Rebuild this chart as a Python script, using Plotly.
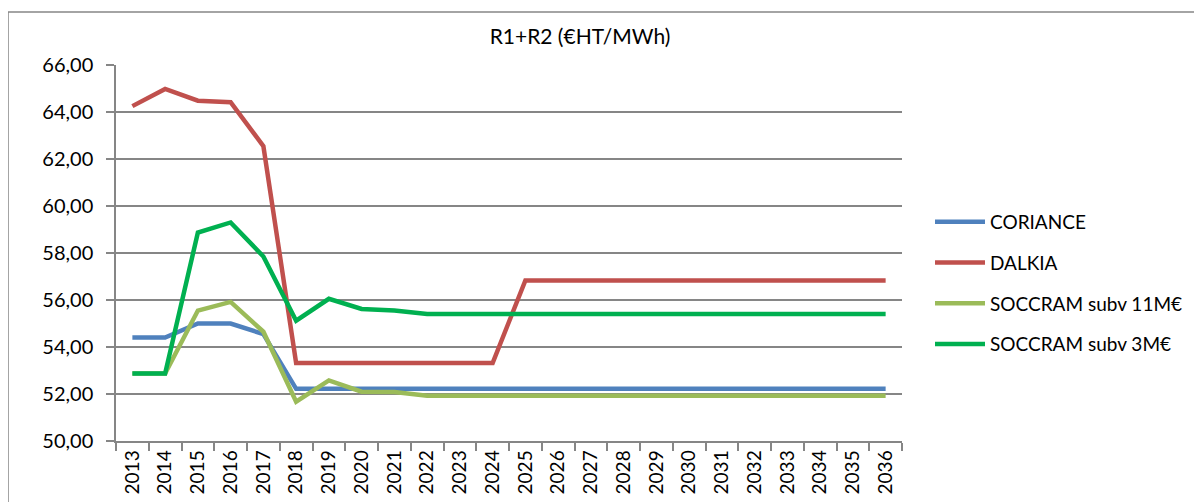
import plotly.graph_objects as go

years = [str(y) for y in range(2013, 2037)]
coriance = [54.40, 54.40, 55.00, 55.00, 54.55, 52.22] + [52.22] * 18
dalkia = [64.25, 64.98, 64.48, 64.42, 62.55, 53.32, 53.32, 53.32, 53.32, 53.32, 53.32, 53.32] + [56.83] * 12
soccram_11 = [52.87, 52.87, 55.55, 55.92, 54.65, 51.67, 52.58, 52.10, 52.08, 51.93] + [51.93] * 14
soccram_3 = [52.87, 52.87, 58.87, 59.30, 57.85, 55.12, 56.05, 55.62, 55.55, 55.40] + [55.40] * 14

series = [
    ("CORIANCE", coriance, "#4F81BD"),
    ("DALKIA", dalkia, "#C0504D"),
    ("SOCCRAM subv 11M€", soccram_11, "#9BBB59"),
    ("SOCCRAM subv 3M€", soccram_3, "#00B050"),
]

FONT = "Lato"
OFF = 8  # page body margin
W, H = 1202 - OFF, 502 - OFF
# plot area in page pixels: x 116..902, y 65..441
L, R, T, B = 116 - OFF, 1202 - 902, 65 - OFF, 502 - 441

fig = go.Figure()
for i, (name, vals, col) in enumerate(series):
    fig.add_trace(go.Scatter(x=years, y=vals, name=name, mode="lines",
                             line=dict(color=col, width=4.5), legendgroup=str(i)))

pw, ph = W - L - R, H - T - B
fig.update_layout(
    width=W, height=H,
    margin=dict(l=L, r=R, t=T, b=B, autoexpand=False),
    paper_bgcolor="white", plot_bgcolor="white",
    separators=", ",
    font=dict(family=FONT, color="black", size=19),
    title=dict(text="R1+R2 (€HT/MWh)", x=(580 - OFF) / W, xref="container", xanchor="center",
               y=1 - (37 - OFF) / H, yref="container", yanchor="middle",
               font=dict(family=FONT, size=21, color="black")),
    showlegend=True,
    legend=dict(x=(930 - 116) / pw, y=(441 - 203) / ph, xanchor="left", yanchor="top",
                font=dict(family=FONT, size=19, color="black"), itemwidth=50,
                tracegroupgap=13, bgcolor="rgba(0,0,0,0)"),
    xaxis=dict(type="category", showgrid=False, showline=True, linecolor="#868686", linewidth=1.5,
               ticks="outside", ticklen=8, tickcolor="#868686", tickwidth=1.5, tickson="boundaries",
               tickangle=-90, tickfont=dict(family=FONT, size=19, color="black"),
               range=[-0.5, 23.5], zeroline=False, automargin=False),
    yaxis=dict(range=[50, 66], dtick=2, tick0=50, tickformat=".2f", showgrid=True,
               gridcolor="#868686", gridwidth=1.5, showline=True, linecolor="#868686", linewidth=1.5,
               ticks="outside", ticklen=8, tickcolor="#868686", tickwidth=1.5,
               tickfont=dict(family=FONT, size=20, color="black"), zeroline=False,
               ticklabelstandoff=9, automargin=False),
    shapes=[dict(type="rect", xref="paper", yref="paper",
                 x0=(8 - 116) / pw, x1=(1215 - 116) / pw,
                 y0=(441 - 515) / ph, y1=(441 - 12) / ph,
                 line=dict(color="#868686", width=1.5), fillcolor="rgba(0,0,0,0)", layer="below")],
)

fig.write_html("out.html")
